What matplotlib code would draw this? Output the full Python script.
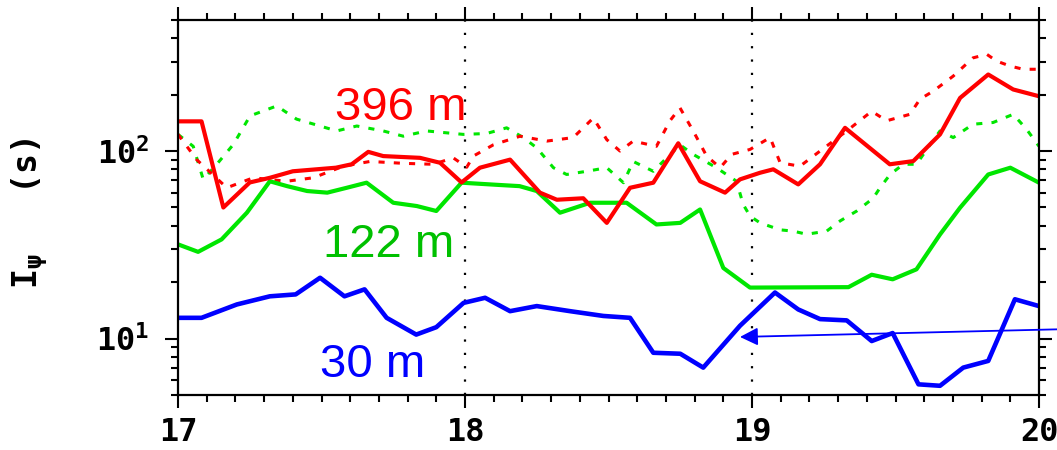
import numpy as np
import matplotlib
matplotlib.use("Agg")
import matplotlib.pyplot as plt
from matplotlib.ticker import FixedLocator, MultipleLocator, FuncFormatter, LogLocator, NullFormatter

plt.rcParams['mathtext.fontset'] = 'custom'
plt.rcParams['mathtext.rm'] = 'DejaVu Sans Mono:bold'
plt.rcParams['mathtext.it'] = 'DejaVu Sans Mono:bold'
plt.rcParams['mathtext.bf'] = 'DejaVu Sans Mono:bold'

# 396 m, сплошная
x_396 = [17.0, 17.082, 17.158, 17.25, 17.32, 17.40, 17.55, 17.605, 17.663, 17.715, 17.843, 17.913,
         17.988, 18.052, 18.157, 18.261, 18.32, 18.412, 18.494, 18.575, 18.656, 18.743, 18.819,
         18.906, 18.958, 19.028, 19.074, 19.161, 19.237, 19.324, 19.48, 19.562, 19.655, 19.725,
         19.823, 19.91, 20.0]
y_396 = [144, 144, 50, 68, 72, 78, 81.5, 85, 99, 94, 92, 86.6,
         68, 81.5, 90, 60, 55, 56, 41.4, 63.7, 67.8, 110, 69,
         60, 70.6, 76.6, 79.9, 66.4, 85, 133, 85, 88.4, 122.7, 192,
         256, 213, 196]

# 122 m, сплошная
x_122 = [17.0, 17.07, 17.152, 17.24, 17.32, 17.38, 17.45, 17.52, 17.588, 17.657, 17.75, 17.832,
         17.90, 17.988, 18.122, 18.19, 18.25, 18.331, 18.436, 18.563, 18.667, 18.75, 18.819,
         18.90, 18.993, 19.336, 19.417, 19.49, 19.573, 19.655, 19.725, 19.823, 19.90, 20.0]
y_122 = [31.8, 29, 33.8, 46.9, 69, 65, 61.2, 60, 63.7, 67.8, 53, 50.9,
         47.9, 67.8, 65.9, 65, 61.2, 46.9, 53, 53, 40.6, 41.4, 48.8,
         23.8, 18.7, 18.8, 21.9, 20.7, 23.4, 35.9, 49.9, 75, 81.5, 67.8]

# 30 m, сплошная
x_30 = [17.0, 17.082, 17.205, 17.32, 17.41, 17.495, 17.58, 17.65, 17.727, 17.83, 17.90, 17.995,
        18.07, 18.157, 18.25, 18.366, 18.482, 18.575, 18.656, 18.75, 18.83, 18.958, 19.08,
        19.161, 19.237, 19.33, 19.417, 19.49, 19.58, 19.655, 19.736, 19.823, 19.916, 20.0]
y_30 = [12.9, 12.9, 15.2, 16.8, 17.2, 21.1, 16.8, 18.3, 12.9, 10.5, 11.5, 15.5,
        16.5, 14.0, 14.9, 14.0, 13.2, 12.9, 8.4, 8.3, 7.0, 11.7, 17.6,
        14.3, 12.7, 12.5, 9.7, 10.7, 5.7, 5.6, 7.0, 7.6, 16.2, 14.9]

# 396 m, пунктир
x_396d = [17.0, 17.065, 17.17, 17.262, 17.378, 17.471, 17.576, 17.669, 17.785, 17.89, 17.959,
          18.006, 18.029, 18.099, 18.192, 18.285, 18.377, 18.447, 18.494, 18.54, 18.586, 18.667,
          18.714, 18.749, 18.795, 18.842, 18.889, 18.929, 18.993, 19.063, 19.098, 19.167, 19.237,
          19.33, 19.417, 19.469, 19.55, 19.585, 19.632, 19.701, 19.77, 19.818, 19.852, 19.899,
          19.945, 20.0]
y_396d = [122.7, 90, 63.7, 72, 69, 72, 83, 88, 86, 85, 92,
          82, 94, 108, 120, 113, 118, 150, 115, 100, 113, 106,
          145, 170, 128, 94, 81.5, 96, 102, 118, 86.6, 83, 100,
          128, 163, 145, 157, 189, 209, 251, 314, 328, 302, 284,
          273, 273]

# 122 m, пунктир
x_122d = [17.0, 17.053, 17.088, 17.135, 17.193, 17.251, 17.344, 17.413, 17.495, 17.553, 17.623,
          17.715, 17.785, 17.866, 17.994, 18.075, 18.145, 18.203, 18.25, 18.308, 18.354, 18.424,
          18.494, 18.552, 18.586, 18.656, 18.703, 18.749, 18.795, 18.876, 18.946, 18.969, 18.993,
          19.028, 19.098, 19.144, 19.19, 19.26, 19.307, 19.365, 19.422, 19.446, 19.481, 19.527,
          19.573, 19.62, 19.655, 19.701, 19.77, 19.84, 19.91, 19.956, 20.0]
y_122d = [122.7, 106, 70.6, 85, 108.5, 154, 174, 148, 136, 128, 136,
          128, 120, 128, 122.7, 124, 133, 118, 104, 81.5, 75, 78,
          81.5, 67.8, 88, 78, 92, 108, 96, 81.5, 69, 52, 45,
          41.4, 38, 37.4, 36, 37.4, 42.4, 47.9, 56, 63.7, 75, 85,
          85, 108, 128, 118, 139, 142, 157, 131, 106]

labels = ['396 m', '122 m', '30 m']
red = '#ff0000'
green = '#00e600'
blue = '#0000ff'

fig = plt.figure(figsize=(10.57, 4.5), dpi=100)
ax = fig.add_axes([0.1684, 0.1222, 0.8146, 0.8334])

ax.plot(x_122d, y_122d, color=green, lw=2.2, linestyle=(0, (2, 3)))
ax.plot(x_396d, y_396d, color=red, lw=2.2, linestyle=(0, (2, 3)))
ax.plot(x_122, y_122, color=green, lw=3)
ax.plot(x_396, y_396, color=red, lw=3)
ax.plot(x_30, y_30, color=blue, lw=3.3)

for xv in [18, 19]:
    ax.axvline(xv, color='black', lw=1.6, linestyle=(0, (1, 5)), zorder=0)

ax.set_yscale('log')
ax.set_xlim(17, 20)
ax.set_ylim(5, 500)

ax.xaxis.set_major_locator(FixedLocator([17, 18, 19, 20]))
ax.xaxis.set_minor_locator(MultipleLocator(0.1))
ax.xaxis.set_major_formatter(FuncFormatter(lambda v, p: '%d' % round(v)))
ax.yaxis.set_major_locator(FixedLocator([10, 100]))
ax.yaxis.set_minor_locator(LogLocator(base=10, subs=np.arange(2, 10)))
ax.yaxis.set_minor_formatter(NullFormatter())
ax.yaxis.set_major_formatter(FuncFormatter(lambda v, p: r'$\mathrm{10^{%d}}$' % round(np.log10(v))))

ax.tick_params(which='both', direction='out', top=True, right=True, width=1.5, color='black')
ax.tick_params(which='major', length=9.5)
ax.tick_params(which='minor', length=5)
ax.tick_params(axis='x', which='major', pad=6)
ax.tick_params(axis='y', which='major', pad=11)
for lab in ax.get_xticklabels():
    lab.set_fontfamily('DejaVu Sans Mono')
    lab.set_fontweight('bold')
    lab.set_fontsize(23)
for lab in ax.get_yticklabels():
    lab.set_fontsize(23)
for sp in ax.spines.values():
    sp.set_linewidth(1.6)

ax.text(-0.172, 0.485, r'I$_{\psi}$   (s)', transform=ax.transAxes, rotation=90,
        ha='center', va='center', fontsize=24, fontfamily='DejaVu Sans Mono', fontweight='bold')

ax.text(0.182, 0.733, labels[0], transform=ax.transAxes, color=red,
        fontsize=34, fontfamily='Liberation Sans', va='baseline', ha='left')
ax.text(0.168, 0.368, labels[1], transform=ax.transAxes, color='#00c000',
        fontsize=34, fontfamily='Liberation Sans', va='baseline', ha='left')
ax.text(0.165, 0.048, labels[2], transform=ax.transAxes, color=blue,
        fontsize=34, fontfamily='Liberation Sans', va='baseline', ha='left')

ax.annotate('', xy=(18.958, 10.2), xytext=(20.063, 11.2),
            arrowprops=dict(arrowstyle='-|>', color=blue, lw=1.3, mutation_scale=27,
                            shrinkA=0, shrinkB=0),
            annotation_clip=False)

fig.savefig('out.png', dpi=100)
